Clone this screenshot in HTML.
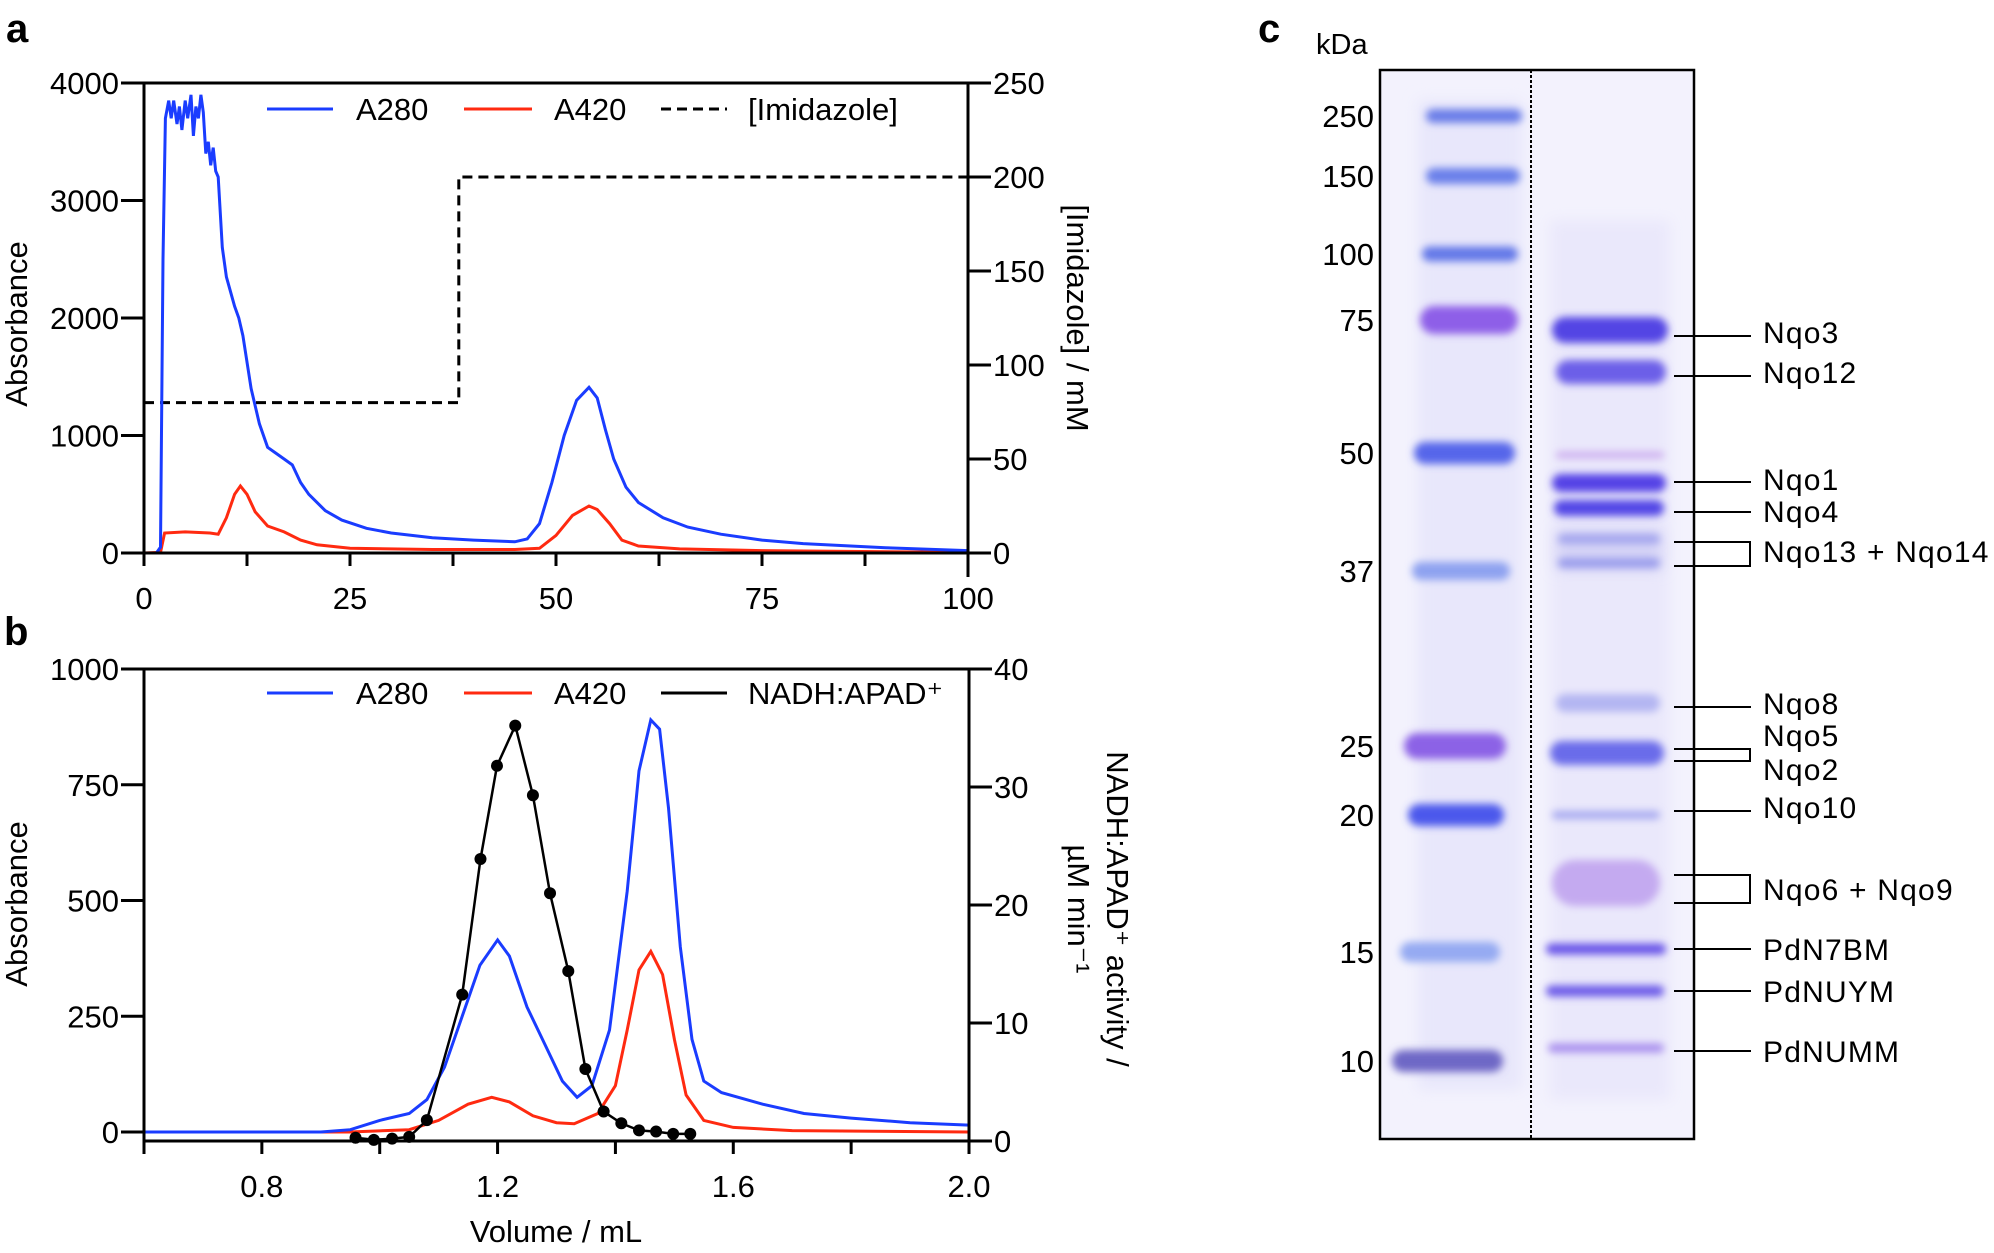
<!DOCTYPE html>
<html><head><meta charset="utf-8"><style>
html,body{margin:0;padding:0;background:#fff;}
svg{display:block;font-family:"Liberation Sans",Arial,sans-serif;}
</style></head><body>
<svg id="fig" width="1994" height="1253" viewBox="0 0 1994 1253" xmlns="http://www.w3.org/2000/svg">
<defs>
<filter id="blur3" x="-20%" y="-300%" width="140%" height="700%"><feGaussianBlur stdDeviation="4"/></filter>
<filter id="blur6" x="-20%" y="-200%" width="140%" height="500%"><feGaussianBlur stdDeviation="7"/></filter>
</defs>
<g id="pa"></g>
<g id="pb"></g>
<g id="pc"></g>
</svg>
<script>
// ---------- Panel a data ----------
const aA280x=[0,1.5,2,2.3,2.6,3,3.3,3.6,4,4.3,4.6,5,5.3,5.7,6,6.3,6.6,6.9,7.2,7.5,7.8,8.1,8.4,8.7,9,9.5,10,11,11.5,12,13,14,15,16,17,18,19,20,22,24,27,30,35,40,45,46.5,48,49.5,51,52.5,54,55,56,57,58.5,60,63,66,70,75,80,90,100];
const aA280y=[0,0,50,2500,3700,3850,3700,3850,3650,3800,3600,3850,3700,3900,3550,3800,3700,3900,3750,3400,3500,3300,3450,3250,3200,2600,2350,2100,2000,1850,1400,1100,900,850,800,750,600,500,360,280,210,170,130,110,95,120,250,600,1000,1300,1410,1320,1050,800,560,430,300,220,160,110,80,45,20];
const aA420x=[0,2,2.5,5,8,9,10,11,11.7,12.5,13.5,15,17,19,21,25,35,45,48,50,52,54,55,56.5,58,60,65,75,100];
const aA420y=[0,5,170,180,170,160,300,500,570,500,350,230,180,110,70,40,30,30,40,150,320,400,370,250,110,60,35,20,5];
const aImidX=[0,38.2,38.2,100];
const aImidY=[80,80,200,200];
const aXTicks=[0,25,50,75,100];
const aYTicks=[0,1000,2000,3000,4000];
const aY2Ticks=[0,50,100,150,200,250];
// ---------- Panel b data ----------
const bA280x=[0.6,0.9,0.95,1.0,1.05,1.08,1.11,1.14,1.17,1.2,1.22,1.25,1.28,1.31,1.335,1.36,1.39,1.42,1.44,1.46,1.475,1.49,1.51,1.53,1.55,1.58,1.65,1.72,1.8,1.9,2.0];
const bA280y=[0,0,5,25,40,70,140,250,360,415,380,270,190,110,75,100,220,520,780,890,870,700,400,200,110,85,60,40,30,20,15];
const bA420x=[0.6,0.95,1.05,1.1,1.15,1.19,1.22,1.26,1.3,1.33,1.37,1.4,1.42,1.44,1.46,1.48,1.5,1.52,1.55,1.6,1.7,2.0];
const bA420y=[0,0,5,25,60,75,65,35,20,18,40,100,220,350,390,340,200,80,25,10,3,0];
const bActX=[0.959,0.99,1.021,1.05,1.08,1.14,1.171,1.199,1.23,1.26,1.289,1.32,1.349,1.38,1.41,1.44,1.469,1.498,1.527];
const bActY=[0.28,0.1,0.2,0.35,1.77,12.4,23.9,31.8,35.2,29.3,21.0,14.4,6.1,2.5,1.5,0.9,0.8,0.6,0.6];
const bXTicks=[0.8,1.2,1.6,2.0];
const bXLabels=["0.8","1.2","1.6","2.0"];
const bXMinor=[0.6,1.0,1.4,1.8];
const bYTicks=[0,250,500,750,1000];
const bY2Ticks=[0,10,20,30,40];
// ---------- Panel c data ----------
const ladderKDa=["250","150","100","75","50","37","25","20","15","10"];
const sampleLabels=["Nqo3","Nqo12","Nqo1","Nqo4","Nqo13 + Nqo14","Nqo8","Nqo5","Nqo2","Nqo10","Nqo6 + Nqo9","PdN7BM","PdNUYM","PdNUMM"];

const NS="http://www.w3.org/2000/svg";
const FS=31;
function mk(parent,tag,attrs,text){const e=document.createElementNS(NS,tag);for(const k in attrs)e.setAttribute(k,attrs[k]);if(text!==undefined)e.textContent=text;parent.appendChild(e);return e;}
function pathFrom(xs,ys,fx,fy){return xs.map((x,i)=>(i?'L':'M')+fx(x).toFixed(1)+','+fy(ys[i]).toFixed(1)).join(' ');}

// ================= Panel a =================
(function(){
const g=document.getElementById('pa');
const X=v=>144+v/100*824, Y=v=>553-v/4000*470, Y2=v=>553-v/250*470;
let t=mk(g,'text',{x:6,y:42,'font-size':40,'font-weight':'bold'},'a');

let p=mk(g,'path',{d:pathFrom(aImidX,aImidY,X,Y2),fill:'none',stroke:'#000','stroke-width':3,'stroke-dasharray':'10,6'});

p=mk(g,'path',{d:pathFrom(aA420x,aA420y,X,Y),fill:'none',stroke:'#ff2a10','stroke-width':3});

p=mk(g,'path',{d:pathFrom(aA280x,aA280y,X,Y),fill:'none',stroke:'#1a3cff','stroke-width':3});

const ax=mk(g,'g',{stroke:'#000','stroke-width':3});

mk(ax,'line',{x1:144,y1:83,x2:144,y2:566});
mk(ax,'line',{x1:968,y1:83,x2:968,y2:577});
mk(ax,'line',{x1:121,y1:83,x2:991,y2:83});
mk(ax,'line',{x1:144,y1:553,x2:968,y2:553});
for(let v=12.5;v<100;v+=25) mk(ax,'line',{x1:X(v),y1:553,x2:X(v),y2:566});
aXTicks.forEach(v=>{mk(ax,'line',{x1:X(v),y1:553,x2:X(v),y2:566});
 const l=mk(g,'text',{x:X(v),y:609,'font-size':FS,'text-anchor':'middle'},String(v));
 });
aYTicks.forEach(v=>{mk(ax,'line',{x1:121,y1:Y(v),x2:144,y2:Y(v)});
 const l=mk(g,'text',{x:119,y:Y(v)+11,'font-size':FS,'text-anchor':'end'},String(v));
 });
aY2Ticks.forEach(v=>{mk(ax,'line',{x1:968,y1:Y2(v),x2:991,y2:Y2(v)});
 const l=mk(g,'text',{x:993,y:Y2(v)+11,'font-size':FS},String(v));
 });
t=mk(g,'text',{x:0,y:0,'font-size':FS,'text-anchor':'middle',transform:'translate(27,324) rotate(-90)'},'Absorbance');

t=mk(g,'text',{x:0,y:0,'font-size':FS,'text-anchor':'middle',transform:'translate(1067,318) rotate(90)'},'[Imidazole] / mM');

const lg=mk(g,'g',{});
mk(lg,'line',{x1:267,y1:109,x2:333,y2:109,stroke:'#1a3cff','stroke-width':3});
mk(lg,'text',{x:356,y:120,'font-size':FS},'A280');
mk(lg,'line',{x1:464,y1:109,x2:532,y2:109,stroke:'#ff2a10','stroke-width':3});
mk(lg,'text',{x:554,y:120,'font-size':FS},'A420');
mk(lg,'line',{x1:661,y1:109,x2:727,y2:109,stroke:'#000','stroke-width':3,'stroke-dasharray':'10,6'});
mk(lg,'text',{x:748,y:120,'font-size':FS},'[Imidazole]');
})();

// ================= Panel b =================
(function(){
const g=document.getElementById('pb');
const X=v=>144+(v-0.6)/1.4*825, Y=v=>1132-v/1000*463, Y2=v=>1141-v/40*472;
let t=mk(g,'text',{x:4,y:645,'font-size':40,'font-weight':'bold'},'b');

let p=mk(g,'path',{d:pathFrom(bA420x,bA420y,X,Y),fill:'none',stroke:'#ff2a10','stroke-width':3});

p=mk(g,'path',{d:pathFrom(bA280x,bA280y,X,Y),fill:'none',stroke:'#1a3cff','stroke-width':3});

p=mk(g,'path',{d:pathFrom(bActX,bActY,X,Y2),fill:'none',stroke:'#000','stroke-width':2.5});

bActX.forEach((x,i)=>{const c=mk(g,'circle',{cx:X(x),cy:Y2(bActY[i]),r:6,fill:'#000'});
 });
const ax=mk(g,'g',{stroke:'#000','stroke-width':3});

mk(ax,'line',{x1:144,y1:669,x2:144,y2:1154});
mk(ax,'line',{x1:969,y1:669,x2:969,y2:1154});
mk(ax,'line',{x1:121,y1:669,x2:992,y2:669});
mk(ax,'line',{x1:144,y1:1141,x2:969,y2:1141});
bXMinor.forEach(v=>mk(ax,'line',{x1:X(v),y1:1141,x2:X(v),y2:1154}));
bXTicks.forEach((v,i)=>{mk(ax,'line',{x1:X(v),y1:1141,x2:X(v),y2:1154});
 const l=mk(g,'text',{x:X(v),y:1197,'font-size':FS,'text-anchor':'middle'},bXLabels[i]);
 });
bYTicks.forEach(v=>{mk(ax,'line',{x1:121,y1:Y(v),x2:144,y2:Y(v)});
 const l=mk(g,'text',{x:119,y:Y(v)+11,'font-size':FS,'text-anchor':'end'},String(v));
 });
bY2Ticks.forEach(v=>{mk(ax,'line',{x1:969,y1:Y2(v),x2:992,y2:Y2(v)});
 const l=mk(g,'text',{x:994,y:Y2(v)+11,'font-size':FS},String(v));
 });
t=mk(g,'text',{x:0,y:0,'font-size':FS,'text-anchor':'middle',transform:'translate(27,904) rotate(-90)'},'Absorbance');

t=mk(g,'text',{x:0,y:0,'font-size':FS,'text-anchor':'middle',transform:'translate(1107,909) rotate(90)'},'NADH:APAD⁺ activity /');

t=mk(g,'text',{x:0,y:0,'font-size':FS,'text-anchor':'middle',transform:'translate(1068,909) rotate(90)'},'µM min⁻¹');

t=mk(g,'text',{x:556,y:1242,'font-size':FS,'text-anchor':'middle'},'Volume / mL');

const lg=mk(g,'g',{});
mk(lg,'line',{x1:267,y1:693,x2:333,y2:693,stroke:'#1a3cff','stroke-width':3});
mk(lg,'text',{x:356,y:704,'font-size':FS},'A280');
mk(lg,'line',{x1:464,y1:693,x2:532,y2:693,stroke:'#ff2a10','stroke-width':3});
mk(lg,'text',{x:554,y:704,'font-size':FS},'A420');
mk(lg,'line',{x1:661,y1:693,x2:727,y2:693,stroke:'#000','stroke-width':3});
mk(lg,'text',{x:748,y:704,'font-size':FS},'NADH:APAD⁺');
})();

// ================= Panel c (gel) =================
(function(){
const g=document.getElementById('pc');
let t=mk(g,'text',{x:1258,y:42,'font-size':40,'font-weight':'bold'},'c');

t=mk(g,'text',{x:1316,y:54,'font-size':29},'kDa');

const gel=mk(g,'g',{});
mk(gel,'rect',{x:1380,y:70,width:314,height:1069,fill:'#f3f2fd'});
mk(gel,'rect',{x:1418,y:100,width:104,height:990,fill:'#e8e7fb',filter:'url(#blur6)'});
mk(gel,'rect',{x:1550,y:220,width:120,height:880,fill:'#eae8fb',filter:'url(#blur6)'});
mk(gel,'rect',{x:1556,y:530,width:106,height:40,fill:'#d6d4f6',filter:'url(#blur6)'});
// ladder bands: y, x1, x2, thickness, color
const lb=[[116,1426,1522,14,'#6a7ee8'],[176,1426,1520,16,'#6a80ea'],[254,1422,1518,15,'#6478e8'],[320,1420,1518,28,'#8e5ee8'],[453,1414,1515,22,'#5666ea'],[571,1412,1510,18,'#8ea2f0'],[746,1404,1506,26,'#8c62e6'],[815,1408,1504,22,'#4c58ec'],[952,1400,1500,20,'#95aaf2'],[1061,1392,1503,22,'#6e68c6']];
lb.forEach((b,i)=>{const r=mk(gel,'rect',{x:b[1],y:b[0]-b[3]/2,width:b[2]-b[1],height:b[3],rx:b[3]/2,fill:b[4],filter:'url(#blur3)'});
 
 const l=mk(g,'text',{x:1374,y:b[0]+11,'font-size':31,'text-anchor':'end'},ladderKDa[i]);
 });
const sb=[[330,1552,1668,26,'#5244e4'],[372,1556,1666,24,'#6c5ee8'],[455,1556,1664,6,'#caa8ee'],[483,1552,1666,18,'#5542e6'],[508,1554,1664,16,'#5246e6'],[539,1558,1660,10,'#a4a6ee'],[563,1558,1660,10,'#9a9cec'],[703,1556,1660,18,'#b4b6f2'],[753,1550,1664,24,'#6a6cea'],[815,1552,1660,8,'#a6a8f0'],[883,1552,1660,46,'#c4aaf0'],[949,1546,1666,11,'#6852e8'],[991,1546,1664,11,'#6a58e8'],[1048,1548,1664,9,'#a88eee']];
sb.forEach(b=>{const r=mk(gel,'rect',{x:b[1],y:b[0]-b[3]/2,width:b[2]-b[1],height:b[3],rx:b[3]/2,fill:b[4],filter:'url(#blur3)'});
 });
mk(gel,'rect',{x:1380,y:70,width:314,height:1069,fill:'none',stroke:'#000','stroke-width':2.5});
mk(gel,'line',{x1:1531,y1:70,x2:1531,y2:1139,stroke:'#000','stroke-width':2,'stroke-dasharray':'3,2'});
const an=mk(g,'g',{stroke:'#000','stroke-width':2,fill:'none'});

[336,376,482,512,707,811,949,991,1051].forEach(y=>mk(an,'line',{x1:1674,y1:y,x2:1751,y2:y}));
[[542,566],[749,761],[875,903]].forEach(p=>mk(an,'path',{d:`M1674,${p[0]} H1750 V${p[1]} H1674`}));
const ly=[332,372,479,511,551,703,735,769,807,889,949,991,1051];
sampleLabels.forEach((s,i)=>{const l=mk(g,'text',{x:1763,y:ly[i]+11,'font-size':30,'letter-spacing':1.2},s);
 });
})();
</script>
</body></html>
